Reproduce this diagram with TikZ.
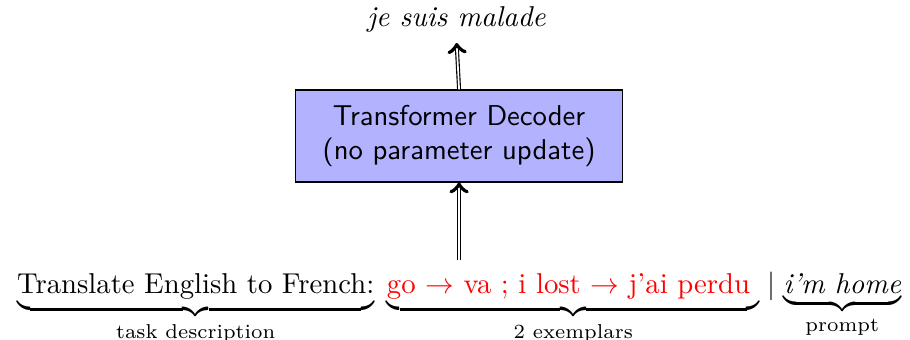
\documentclass[tikz,border=0pt]{standalone}
\usepackage{amsmath}
\usepackage{xcolor}

\begin{document}
\begin{tikzpicture}

\useasboundingbox (0,0) rectangle (11.14,4.15);

\node[anchor=base] (input) at (5.62,0.563) {$\underbrace{\text{Translate English to French:}}_{\text{task description}}\;
\underbrace{\text{\color{red}go $\to$ va ; i lost $\to$ j'ai perdu }}_{\text{2 exemplars}}
\mid
\underbrace{\textit{i'm home}}_{\text{prompt}}$};

\node[draw, fill=blue!30, minimum width=4.01cm, minimum height=1.126cm, align=center, font=\sffamily] (decoder) at (5.62,2.485) {Transformer Decoder\\(no parameter update)};

\node[anchor=base] (output) at (5.59,3.82) {\textit{je suis malade}};

\draw[double, ->] (5.62,0.967) -- (decoder.south);
\draw[double, ->] (decoder.north) -- (output.south);

\end{tikzpicture}
\end{document}
